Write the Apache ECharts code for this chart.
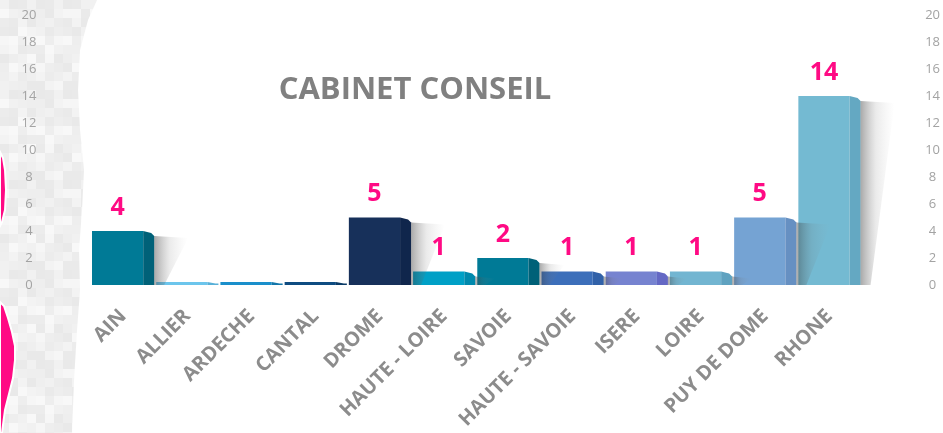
<!DOCTYPE html>
<html>
<head>
<meta charset="utf-8">
<script src="https://cdn.jsdelivr.net/npm/echarts@6/dist/echarts.min.js"></script>
<style>
  html, body { margin: 0; padding: 0; background: #ffffff; }
  #chart { width: 943px; height: 433px; }
</style>
</head>
<body>
<div id="chart"></div>
<script>
// Départements and headcount per département
const departements = ['AIN', 'ALLIER', 'ARDECHE', 'CANTAL', 'DROME', 'HAUTE - LOIRE', 'SAVOIE',
  'HAUTE - SAVOIE', 'ISERE', 'LOIRE', 'PUY DE DOME', 'RHONE'];
const effectifs = [4, 0, 0, 0, 5, 1, 2, 1, 1, 1, 5, 14];

// Value-axis ticks (both sides)
const yTicks = [0, 2, 4, 6, 8, 10, 12, 14, 16, 18, 20];

// Front and side colours of each bar
const faceColors = ['#007a96', '#6cc5ec', '#1a8fcb', '#0f4c81', '#17305a', '#00a0c6', '#007a96',
  '#3c6fba', '#7683d0', '#72b5d1', '#75a3d3', '#74bad2'];
const sideColors = ['#006178', '#58b0d8', '#1376aa', '#0a3a66', '#10264c', '#0089ad', '#006178',
  '#3161a8', '#6468c4', '#5fa2c0', '#6690c2', '#64a8c2'];

const FONT = '"Open Sans", "DejaVu Sans", sans-serif';

// Checkered texture for the left paper strip
const shades = ['#f1f1f1', '#ececec', '#f6f6f6', '#e9e9e9', '#efefef', '#f8f8f8', '#eaeaea', '#f3f3f3', '#eeeeee'];
const tex = document.createElement('canvas');
tex.width = 90; tex.height = 90;
const tctx = tex.getContext('2d');
for (let r = 0; r < 10; r++) {
  for (let c = 0; c < 10; c++) {
    tctx.fillStyle = shades[(r * 5 + c * 3 + (r * c) % 4) % shades.length];
    tctx.fillRect(c * 9, r * 9, 9, 9);
  }
}

function renderBar(params, api) {
  const i = api.value(0);
  const v = api.value(1);
  const base = api.coord([i, 0]);
  const top = api.coord([i, v]);
  const band = api.size([1, 0])[0];
  const side = 11;
  const x0 = base[0] - band / 2 + 1;
  const faceW = band - side - 2;
  const yBot = base[1];
  let yTop = top[1];
  if (yBot - yTop < 3) yTop = yBot - 3;
  const h = yBot - yTop;
  const xs = x0 + faceW;
  const children = [];

  children.push({
    type: 'rect',
    shape: { x: x0, y: yTop, width: faceW, height: h },
    style: { fill: faceColors[i] },
    z2: 1
  });
  children.push({
    type: 'polygon',
    shape: { points: [[xs, yTop], [xs + side - 3, yTop + Math.min(2, h / 2)], [xs + side, yTop + Math.min(5, h / 2)], [xs + side, yBot], [xs, yBot]] },
    style: { fill: sideColors[i] },
    z2: 1
  });
  if (h > 6) {
    const reach = Math.min(34, 14 + h * 0.4);
    children.push({
      type: 'polygon',
      shape: { points: [[xs + side, yTop + 5], [xs + side + reach, yTop + 7], [xs + side + 10, yBot], [xs + side, yBot]] },
      style: {
        fill: new echarts.graphic.LinearGradient(0, 0, 1, 0, [
          { offset: 0, color: 'rgba(50,50,50,0.42)' },
          { offset: 0.45, color: 'rgba(110,110,110,0.14)' },
          { offset: 1, color: 'rgba(160,160,160,0)' }
        ])
      },
      z2: 3
    });
  }
  if (v > 0) {
    children.push({
      type: 'text',
      x: x0 + faceW / 2,
      y: yTop - 11,
      style: {
        text: String(v),
        fill: '#ff0a84',
        font: 'bold 25px ' + FONT,
        align: 'center',
        verticalAlign: 'bottom'
      },
      z2: 5
    });
  }
  return { type: 'group', children };
}

const chart = echarts.init(document.getElementById('chart'), null, { renderer: 'canvas' });

chart.setOption({
  animation: false,
  backgroundColor: '#ffffff',
  grid: { left: 91, right: 81, top: 15, bottom: 148 },
  graphic: [
    {
      type: 'polygon',
      z: -10,
      silent: true,
      shape: { points: [[0, 0], [97, 0], [88, 20], [80, 50], [78, 90], [80, 130], [84, 170], [82, 210],
        [79, 250], [80, 290], [77, 330], [74, 380], [72, 433], [0, 433]] },
      style: { fill: { image: tex, repeat: 'repeat' } }
    },
    {
      type: 'polygon',
      z: -9,
      silent: true,
      shape: { points: [[0, 152], [3, 158], [5, 170], [6, 190], [5, 210], [2, 222], [0, 226]] },
      style: { fill: '#ff0a84', stroke: '#ffffff', lineWidth: 2 }
    },
    {
      type: 'polygon',
      z: -9,
      silent: true,
      shape: { points: [[0, 302], [4, 306], [8, 318], [12, 332], [15, 346], [15, 360], [13, 378],
        [9, 394], [5, 410], [3, 425], [2, 433], [0, 433]] },
      style: { fill: '#ff0a84', stroke: '#ffffff', lineWidth: 2 }
    },
    {
      type: 'text',
      x: 415,
      y: 90,
      style: {
        text: 'CABINET CONSEIL',
        fill: '#808080',
        font: 'bold 31px ' + FONT,
        align: 'center',
        verticalAlign: 'middle'
      }
    }
  ],
  xAxis: {
    type: 'category',
    data: departements,
    axisLine: { show: false },
    axisTick: { show: false },
    axisLabel: {
      interval: 0,
      rotate: 45,
      margin: 28,
      color: '#8c8c8c',
      fontWeight: 'bold',
      fontSize: 20,
      fontFamily: FONT
    }
  },
  yAxis: [0, 1].map(k => ({
    type: 'value',
    position: k === 0 ? 'left' : 'right',
    min: yTicks[0],
    max: yTicks[yTicks.length - 1],
    interval: yTicks[1] - yTicks[0],
    splitLine: { show: false },
    axisLine: { show: false },
    axisTick: { show: false },
    axisLabel: {
      margin: k === 0 ? 62 : 71,
      align: 'center',
      color: '#a3a3a3',
      fontSize: 13,
      fontFamily: FONT
    }
  })),
  series: [{
    type: 'custom',
    renderItem: renderBar,
    encode: { x: 0, y: 1 },
    data: effectifs.map((v, i) => [i, v])
  }]
});
</script>
</body>
</html>
